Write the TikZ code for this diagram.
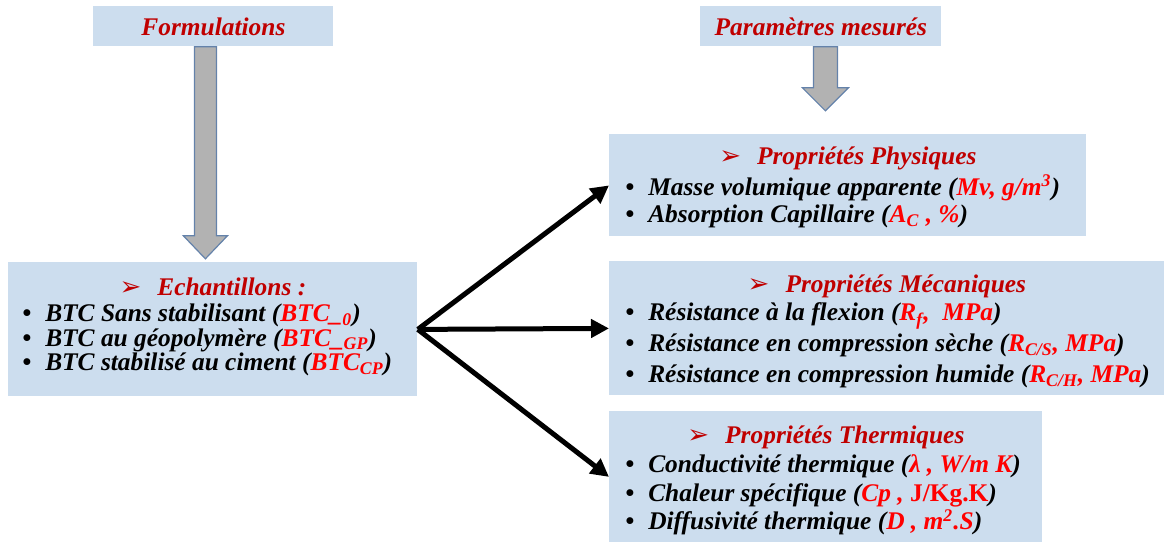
\documentclass[tikz,border=0pt]{standalone}
\usepackage{fontspec}
\setmainfont{Liberation Serif}
\newfontfamily\symfont{DejaVu Sans}
\usetikzlibrary{arrows.meta,positioning}

\definecolor{boxblue}{RGB}{204,221,238}
\definecolor{headred}{RGB}{192,0,0}
\definecolor{valred}{RGB}{255,0,0}
\definecolor{blockgray}{RGB}{178,178,178}
\definecolor{blockedge}{RGB}{100,130,170}

\newcommand{\val}[1]{\textcolor{valred}{#1}}
\newcommand{\headline}[1]{{\symfont\fontsize{13}{13}\selectfont ➢}\hspace{8pt}#1}
\newcommand{\itm}{\textbullet\hspace{7pt}}
\newcommand{\tightlines}{\lineskiplimit -20pt\relax}

\tikzset{
  bluebox/.style={fill=boxblue, draw=none, inner sep=0pt, anchor=north west},
  titletext/.style={text=headred, font=\fontsize{12.7}{14}\selectfont\bfseries\itshape},
  headtext/.style={text=headred, font=\fontsize{12.7}{14}\selectfont\bfseries\itshape, inner sep=0pt},
  listtext/.style={align=left, anchor=north west, inner sep=0pt},
  listfont/.style={font=\fontsize{12.7}{#1}\selectfont\bfseries\itshape\tightlines},
  blockarrow/.style={fill=blockgray, draw=blockedge, line width=0.6pt, line join=miter},
  linkarrow/.style={line width=2.5pt, -{Triangle[length=9pt,width=9pt]}}
}

\begin{document}
\begin{tikzpicture}[x=0.5pt, y=-0.5pt]
	\useasboundingbox (0,0) rectangle (1164,542);

	% top titles
	\node [bluebox, minimum width=120pt, minimum height=20pt] (form) at (93,6) {};
	\node [titletext] (formtxt) at (form.center) {Formulations};
	\node [bluebox, minimum width=120.5pt, minimum height=20pt] (param) at (700,6) {};
	\node [titletext] (paramtxt) at (param.center) {Paramètres mesurés};

	% samples
	\node [bluebox, minimum width=204.5pt, minimum height=67pt] (ech) at (8,262) {};
	\node [headtext] (echhead) at ([yshift=-12.5pt]ech.north) {\headline{Echantillons :}};
	\node [listtext, listfont=12.25pt] (echlist) at ([xshift=7pt,yshift=-20.75pt]ech.north west) {%
		\itm BTC Sans stabilisant (\val{BTC\_\textsubscript{0}})\\
		\itm BTC au géopolymère (\val{BTC\_\textsubscript{GP}})\\
		\itm BTC stabilisé au ciment (\val{BTC\textsubscript{CP}})};

	% physical properties
	\node [bluebox, minimum width=238.5pt, minimum height=51pt] (phys) at (609,134) {};
	\node [headtext] (physhead) at ([yshift=-12pt]phys.north) {\headline{Propriétés Physiques}};
	\node [listtext, listfont=13.75pt] (physlist) at ([xshift=8pt,yshift=-20.25pt]phys.north west) {%
		\itm Masse volumique apparente (\val{Mv, g/m\textsuperscript{3}})\\
		\itm Absorption Capillaire (\val{A\textsubscript{C} , \%})};

	% mechanical properties
	\node [bluebox, minimum width=277.5pt, minimum height=67pt] (meca) at (609,261) {};
	\node [headtext] (mecahead) at ([yshift=-12.5pt]meca.north) {\headline{Propriétés Mécaniques}};
	\node [listtext, listfont=15.5pt] (mecalist) at ([xshift=8pt,yshift=-20.75pt]meca.north west) {%
		\itm Résistance à la flexion (\val{R\textsubscript{f},\ \ MPa})\\
		\itm Résistance en compression sèche (\val{R\textsubscript{C/S}, MPa})\\
		\itm Résistance en compression humide (\val{R\textsubscript{C/H}, MPa})};

	% thermal properties
	\node [bluebox, minimum width=216.5pt, minimum height=65.5pt] (therm) at (609,411) {};
	\node [headtext] (thermhead) at ([yshift=-13pt]therm.north) {\headline{Propriétés Thermiques}};
	\node [listtext, listfont=14.25pt] (thermlist) at ([xshift=8pt,yshift=-21.75pt]therm.north west) {%
		\itm Conductivité thermique (\val{λ , W/m K})\\
		\itm Chaleur spécifique (\val{Cp , \upshape J/Kg.K})\\
		\itm Diffusivité thermique (\val{D , m\textsuperscript{2}.S})};

	% gray block arrows
	\draw [blockarrow] ([xshift=-9.5pt]form.south) -- ++(0,189) -- ++(-11,0) -- ++(22,23)
		-- ++(22,-23) -- ++(-11,0) -- ++(0,-189) -- cycle;
	\draw [blockarrow] ([xshift=-3.75pt]param.south) -- ++(0,41) -- ++(-11,0) -- ++(23,23)
		-- ++(23,-23) -- ++(-11,0) -- ++(0,-41) -- cycle;

	% links
	\draw [linkarrow] (ech.east) -- (phys.west);
	\draw [linkarrow] (ech.east) -- (meca.west);
	\draw [linkarrow] (ech.east) -- (therm.west);
\end{tikzpicture}
\end{document}
